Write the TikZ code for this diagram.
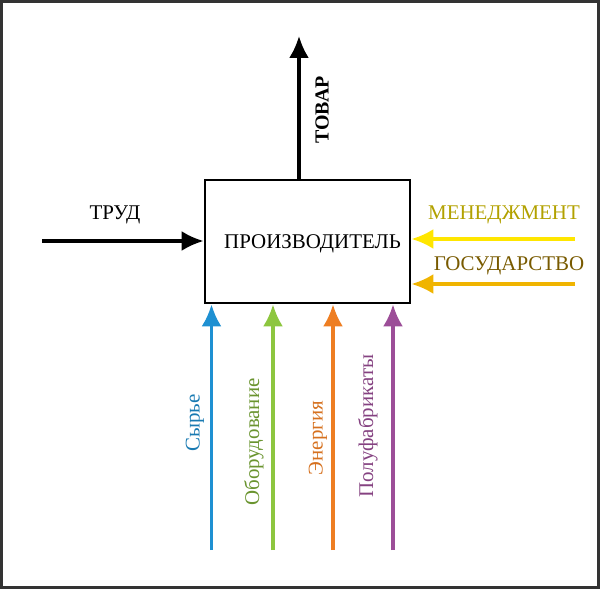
\documentclass[tikz,border=0pt]{standalone}
\usepackage{fontspec}
\setmainfont{Liberation Serif}
\usetikzlibrary{positioning,arrows.meta}
\definecolor{rawblue}{HTML}{1E90D2}
\definecolor{equipgreen}{HTML}{8DC63F}
\definecolor{energyorange}{HTML}{EE7E22}
\definecolor{semipurple}{HTML}{9C4E98}
\definecolor{mgmtyellow}{HTML}{FFE600}
\definecolor{stategold}{HTML}{F0B400}
\tikzset{
  flow/.style  = {-{Latex[length=22bp,width=20bp]}, line width=3.2bp},
  lbl/.style   = {font=\fontsize{21}{21}\selectfont, inner sep=0pt},
  vlbl/.style  = {lbl, rotate=90},
  unit/.style  = {draw, line width=2.8bp, minimum width=205bp, minimum height=123bp, inner sep=0pt},
}
\begin{document}
\begin{tikzpicture}[x=1bp,y=-1bp]
  \useasboundingbox (0,0) rectangle (600,589);
  \draw[line width=2.6bp, black!80] (1.3,1.3) rectangle (598.7,587.7);
  % producer box
  \node[unit] (prod) at (307.5,241.5) {};
  \node[lbl] (prodtxt) at (312.5,244) {ПРОИЗВОДИТЕЛЬ};
  % output
  \coordinate (out) at (299,36);
  \draw[flow] (out |- prod.north) -- (out);
  \node[lbl, rotate=90, font=\bfseries\fontsize{20}{20}\selectfont] (goods) at (322,110) {ТОВАР};
  % labour
  \coordinate (labin) at (42,241);
  \draw[flow] (labin) -- (labin -| prod.west);
  \node[lbl] (labour) at (115,215) {ТРУД};
  % right side inputs
  \coordinate (mgmtin) at (575,239);
  \coordinate (statein) at (575,284);
  \draw[flow, mgmtyellow] (mgmtin) -- (mgmtin -| prod.east);
  \draw[flow, stategold] (statein) -- (statein -| prod.east);
  \node[lbl, text=mgmtyellow!70!black] (mgmt) at (504,215) {МЕНЕДЖМЕНТ};
  \node[lbl, text=stategold!50!black] (state) at (509,266) {ГОСУДАРСТВО};
  % bottom inputs
  \coordinate (rawin) at (211.5,550);
  \coordinate (equipin) at (273,550);
  \coordinate (energyin) at (333,550);
  \coordinate (semiin) at (393,550);
  \draw[flow, rawblue] (rawin) -- (rawin |- prod.south);
  \draw[flow, equipgreen] (equipin) -- (equipin |- prod.south);
  \draw[flow, energyorange] (energyin) -- (energyin |- prod.south);
  \draw[flow, semipurple] (semiin) -- (semiin |- prod.south);
  \node[vlbl, text=rawblue!85!black] (raw) at (195,423) {Сырье};
  \node[vlbl, text=equipgreen!75!black] (equip) at (254,442) {Оборудование};
  \node[vlbl, text=energyorange!90!black] (energy) at (318,438) {Энергия};
  \node[vlbl, text=semipurple!85!black] (semi) at (368,426) {Полуфабрикаты};
\end{tikzpicture}
\end{document}
